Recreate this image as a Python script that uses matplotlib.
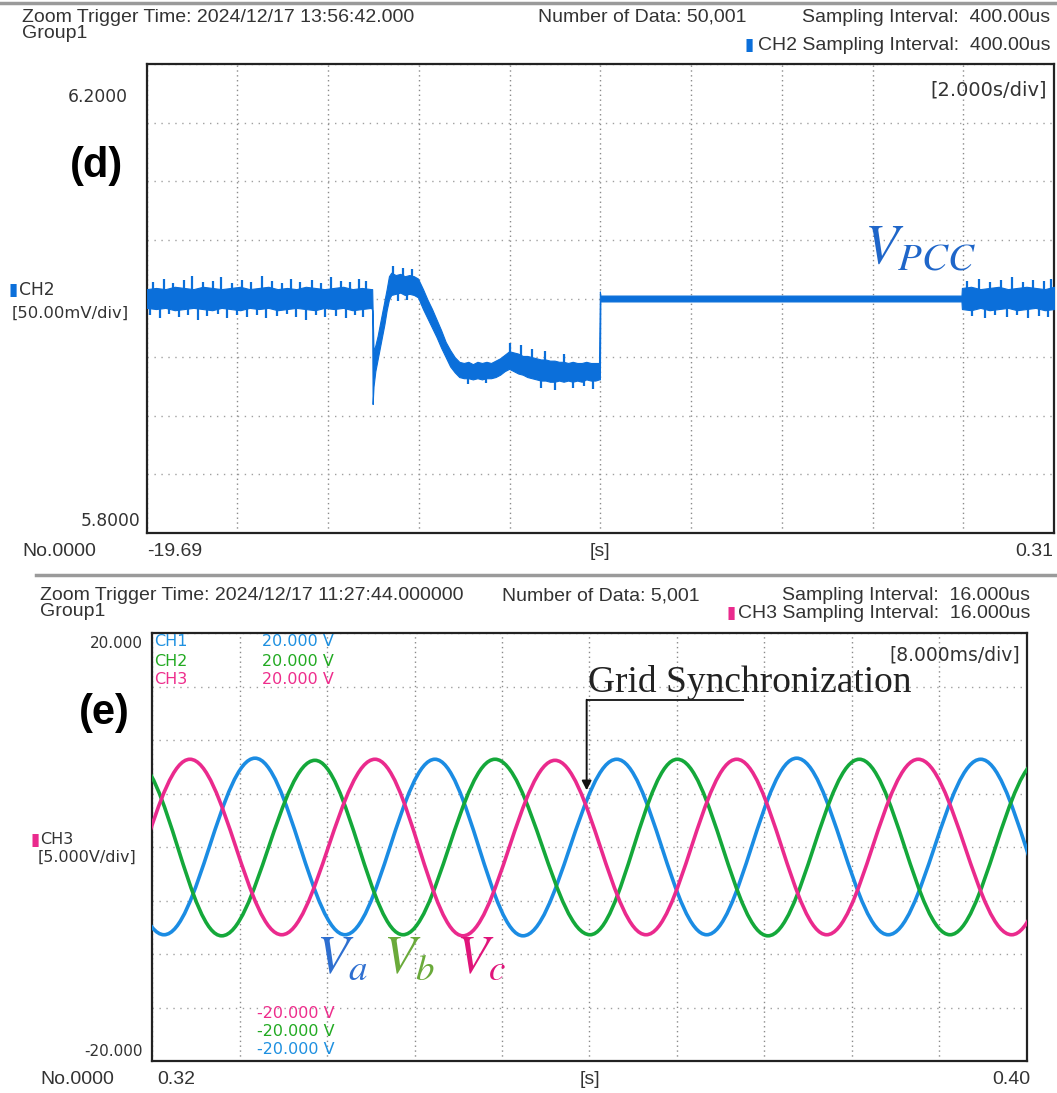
import numpy as np
import matplotlib
matplotlib.use("Agg")
import matplotlib.pyplot as plt
from matplotlib.path import Path
from matplotlib.patches import PathPatch
from matplotlib.lines import Line2D
from matplotlib import font_manager

# ------------------------------------------------------------------ data
# Panel (d): V_PCC trace (CH2); core band of the noisy trace
d_xlim = (-19.69, 0.31)
d_ylim = (5.80, 6.20)
base_t_range = (-19.69, -14.74)
base_hi = [6.008, 6.009, 6.008, 6.010, 6.009, 6.008, 6.010, 6.009, 6.008, 6.009,
           6.010, 6.008, 6.009, 6.010, 6.008, 6.009, 6.008, 6.010, 6.009, 6.008,
           6.009, 6.010, 6.008, 6.009, 6.008]
base_lo = [5.992, 5.991, 5.992, 5.990, 5.991, 5.992, 5.991, 5.990, 5.992, 5.991,
           5.990, 5.992, 5.991, 5.992, 5.990, 5.991, 5.992, 5.991, 5.990, 5.992,
           5.991, 5.992, 5.990, 5.991, 5.992]
event_t = [-14.72, -14.71, -14.69, -14.65, -14.60, -14.55, -14.50, -14.45, -14.40, -14.35,
           -14.30, -14.20, -14.10, -14.00, -13.90, -13.80, -13.71, -13.60, -13.50, -13.40,
           -13.30, -13.20, -13.10, -13.00, -12.90, -12.80, -12.70, -12.60, -12.50, -12.40,
           -12.30, -12.20, -12.10, -12.00, -11.90, -11.80, -11.70, -11.60, -11.50, -11.40,
           -11.30, -11.20, -11.10, -11.00, -10.90, -10.80, -10.70, -10.60, -10.50, -10.40,
           -10.30, -10.20, -10.10, -10.00, -9.90, -9.80, -9.72]
event_hi = [6.008, 5.990, 5.955, 5.960, 5.968, 5.978, 5.988, 5.998, 6.008, 6.019,
            6.022, 6.020, 6.021, 6.019, 6.020, 6.019, 6.017, 6.008, 5.999, 5.991,
            5.982, 5.973, 5.963, 5.956, 5.950, 5.946, 5.945, 5.946, 5.944, 5.946,
            5.945, 5.946, 5.945, 5.947, 5.949, 5.952, 5.955, 5.954, 5.953, 5.951,
            5.951, 5.950, 5.949, 5.948, 5.948, 5.947, 5.947, 5.946, 5.946, 5.945,
            5.946, 5.945, 5.945, 5.946, 5.945, 5.945, 5.945]
event_lo = [5.990, 5.910, 5.925, 5.938, 5.948, 5.958, 5.968, 5.978, 5.990, 5.999,
            6.003, 6.004, 6.005, 6.003, 6.004, 6.003, 6.001, 5.991, 5.983, 5.975,
            5.967, 5.958, 5.950, 5.942, 5.937, 5.933, 5.932, 5.932, 5.931, 5.932,
            5.931, 5.932, 5.932, 5.933, 5.935, 5.938, 5.940, 5.938, 5.936, 5.935,
            5.933, 5.932, 5.931, 5.930, 5.930, 5.929, 5.929, 5.930, 5.929, 5.930,
            5.929, 5.930, 5.929, 5.931, 5.930, 5.930, 5.931]
flat_t = [-9.70, -9.69, -1.73]
flat_hi = [6.006, 6.0025, 6.0025]
flat_lo = [5.931, 5.9975, 5.9975]
tail_t_range = (-1.72, 0.31)
tail_hi = [6.009, 6.010, 6.008, 6.009, 6.010, 6.008, 6.009, 6.010, 6.009, 6.008, 6.010]
tail_lo = [5.991, 5.990, 5.992, 5.990, 5.991, 5.992, 5.990, 5.991, 5.992, 5.990, 5.991]
# noise spikes: times and tip values
spike_up_t = [-19.55, -19.31, -19.12, -18.86, -18.70, -18.45, -18.22, -18.05, -17.80, -17.58,
              -17.40, -17.15, -16.93, -16.70, -16.52, -16.30, -16.05, -15.85, -15.62, -15.40,
              -15.20, -15.02, -14.85, -14.25, -14.05, -13.85, -11.68, -11.45, -11.20, -10.90,
              -10.50, -1.60, -1.35, -1.10, -0.85, -0.62, -0.38, -0.15, 0.08, 0.25]
spike_up_v = [6.014, 6.017, 6.013, 6.016, 6.019, 6.014, 6.015, 6.018, 6.013, 6.016,
              6.014, 6.019, 6.015, 6.013, 6.017, 6.014, 6.016, 6.013, 6.018, 6.015,
              6.014, 6.017, 6.015, 6.028, 6.026, 6.025, 5.962, 5.960, 5.957, 5.955,
              5.953, 6.015, 6.017, 6.014, 6.016, 6.018, 6.014, 6.016, 6.015, 6.017]
spike_dn_t = [-19.62, -19.40, -19.20, -18.98, -18.78, -18.55, -18.35, -18.12, -17.92, -17.70,
              -17.48, -17.25, -17.05, -16.82, -16.60, -16.40, -16.18, -15.95, -15.75, -15.52,
              -15.30, -15.10, -14.92, -14.15, -13.95, -12.60, -12.20, -11.00, -10.70, -10.30,
              -10.05, -9.85, -1.50, -1.22, -0.98, -0.72, -0.50, -0.26, -0.02, 0.18]
spike_dn_v = [5.986, 5.983, 5.987, 5.984, 5.986, 5.982, 5.985, 5.987, 5.983, 5.986,
              5.984, 5.986, 5.983, 5.985, 5.987, 5.984, 5.982, 5.986, 5.984, 5.985,
              5.983, 5.986, 5.984, 5.998, 5.999, 5.927, 5.928, 5.924, 5.922, 5.924,
              5.925, 5.923, 5.985, 5.983, 5.986, 5.984, 5.986, 5.983, 5.985, 5.984]

# Panel (e): three-phase voltages, times/values of successive peaks and troughs
e_xlim = (0.32, 0.40)
e_ylim = (-20.0, 20.0)
va_t = [0.31282, 0.32110, 0.32942, 0.33765, 0.34587, 0.35392, 0.36249, 0.37072,
        0.37894, 0.38732, 0.39577, 0.40402]
va_v = [8.2, -8.2, 8.3, -8.2, 8.2, -8.3, 8.2, -8.2, 8.3, -8.2, 8.2, -8.2]
vb_t = [0.31008, 0.31835, 0.32637, 0.33490, 0.34295, 0.35136, 0.36005, 0.36803,
        0.37632, 0.38467, 0.39296, 0.40128]
vb_v = [-8.2, 8.2, -8.3, 8.1, -8.2, 8.2, -8.2, 8.2, -8.3, 8.2, -8.2, 8.2]
vc_t = [0.31520, 0.32347, 0.33186, 0.34039, 0.34843, 0.35685, 0.36517, 0.37346,
        0.38169, 0.39006, 0.39860, 0.40686]
vc_v = [-8.2, 8.2, -8.2, 8.2, -8.3, 8.1, -8.2, 8.2, -8.2, 8.2, -8.2, 8.2]
sync_t = 0.35974          # grid synchronisation instant
sync_arrow = (13.76, 5.3)  # arrow start / tip (V)
sync_bar_end = 0.37404

# ------------------------------------------------------------------ style
names = {f.name for f in font_manager.fontManager.ttflist}
NARROW = "Liberation Sans Narrow" if "Liberation Sans Narrow" in names else "Liberation Sans"
plt.rcParams["mathtext.fontset"] = "stix"

W, H = 1057, 1093
fig = plt.figure(figsize=(W / 100, H / 100), dpi=100)
fig.patch.set_facecolor("white")

TXT = "#333333"
C_TOP = "#0b6fda"
C_A, C_B, C_C = "#1b8ce3", "#14a83a", "#ea2a8d"


def ftext(x, y, s, **kw):
    kw.setdefault("va", "center")
    kw.setdefault("ha", "left")
    kw.setdefault("color", TXT)
    return fig.text(x / W, 1 - y / H, s, **kw)


def hline_px(x0, x1, y, **kw):
    fig.add_artist(Line2D([x0 / W, x1 / W], [1 - y / H, 1 - y / H],
                          transform=fig.transFigure, **kw))


def scope_axes(rect_px, xlim, ylim):
    x0, y0, x1, y1 = rect_px
    ax = fig.add_axes([x0 / W, 1 - y1 / H, (x1 - x0) / W, (y1 - y0) / H])
    ax.set_xlim(*xlim)
    ax.set_ylim(*ylim)
    ax.set_xticks(np.linspace(xlim[0], xlim[1], 11))
    ax.set_yticks(np.linspace(ylim[0], ylim[1], 9))
    ax.tick_params(length=0, labelbottom=False, labelleft=False)
    ax.xaxis.grid(True, color="#8a8a8a", lw=1.0, ls=(0, (1, 2.5)))
    ax.yaxis.grid(True, color="#a0a0a0", lw=1.0, ls=(0, (1, 4)))
    ax.set_axisbelow(True)
    for sp in ax.spines.values():
        sp.set_linewidth(1.6)
        sp.set_color("#222222")
    return ax


# separator lines
hline_px(0, W, 3, color="#9a9a9a", lw=2.5)
hline_px(36, W, 575, color="#9a9a9a", lw=2.5)

# ------------------------------------------------------------------ panel (d)
axd = scope_axes((146.7, 64, 1054, 533), d_xlim, d_ylim)
base_t = np.linspace(base_t_range[0], base_t_range[1], len(base_hi))
tail_t = np.linspace(tail_t_range[0], tail_t_range[1], len(tail_hi))
t_all = np.concatenate([base_t, event_t, flat_t, tail_t])
hi_all = np.concatenate([base_hi, event_hi, flat_hi, tail_hi])
lo_all = np.concatenate([base_lo, event_lo, flat_lo, tail_lo])
axd.fill_between(t_all, lo_all, hi_all, color=C_TOP, lw=0.8, edgecolor=C_TOP, zorder=3)
SPIKE_LEN = 0.012
axd.vlines(spike_up_t, np.array(spike_up_v) - SPIKE_LEN, spike_up_v, color=C_TOP, lw=1.6, zorder=3)
axd.vlines(spike_dn_t, spike_dn_v, np.array(spike_dn_v) + SPIKE_LEN, color=C_TOP, lw=1.6, zorder=3)

hs = 14
ftext(22, 17, "Zoom Trigger Time: 2024/12/17 13:56:42.000", family=NARROW, size=hs)
ftext(22, 33, "Group1", family=NARROW, size=hs)
ftext(538, 17, "Number of Data: 50,001", family=NARROW, size=hs)
ftext(1050, 17, "Sampling Interval:  400.00us", family=NARROW, size=hs, ha="right")
ftext(1050, 45, "CH2 Sampling Interval:  400.00us", family=NARROW, size=hs, ha="right")
ftext(745, 45, "\u25AE", family="DejaVu Sans", size=12, color=C_TOP)
ftext(1047, 90, "[2.000s/div]", family="DejaVu Sans", size=14, ha="right")
ftext(128, 97, "6.2000", family="DejaVu Sans", size=12.3, ha="right")
ftext(140, 521, "5.8000", family="DejaVu Sans", size=12.3, ha="right")
ftext(96, 166, "(d)", family="Liberation Sans", weight="bold", size=30, ha="center", color="black")
ftext(8, 290, "\u25AE", family="DejaVu Sans", size=12, color=C_TOP)
ftext(19, 290, "CH2", family="DejaVu Sans", size=12.3)
ftext(12, 313, "[50.00mV/div]", family="DejaVu Sans", size=11.8)
ftext(22, 552, "No.0000", family=NARROW, size=hs)
ftext(147, 552, "-19.69", family=NARROW, size=hs)
ftext(600, 552, "[s]", family=NARROW, size=hs, ha="center")
ftext(1053, 552, "0.31", family=NARROW, size=hs, ha="right")
ftext(864, 248, r"$V_{PCC}$", size=40, color="#1f66c9")

# ------------------------------------------------------------------ panel (e)
axe = scope_axes((152, 633, 1027, 1061), e_xlim, e_ylim)

HALF_PI = np.pi / 2
BZ_A, BZ_B = 0.5122866, 1.0023137  # cubic Bezier of a quarter sine


def wave_path(ts, vs):
    verts = [(ts[0], vs[0])]
    codes = [Path.MOVETO]
    for t0, v0, t1, v1 in zip(ts[:-1], vs[:-1], ts[1:], vs[1:]):
        tm, vm = (t0 + t1) / 2, (v0 + v1) / 2
        q0 = tm - t0
        q1 = t1 - tm
        verts += [(t0 + (1 - BZ_B / HALF_PI) * q0, v0),
                  (t0 + (1 - BZ_A / HALF_PI) * q0, vm + BZ_A * (v0 - vm)),
                  (tm, vm),
                  (tm + BZ_A / HALF_PI * q1, vm + BZ_A * (v1 - vm)),
                  (tm + BZ_B / HALF_PI * q1, v1),
                  (t1, v1)]
        codes += [Path.CURVE4] * 6
    return Path(verts, codes)


for ts, vs, c in [(va_t, va_v, C_A), (vb_t, vb_v, C_B), (vc_t, vc_v, C_C)]:
    axe.add_patch(PathPatch(wave_path(ts, vs), fill=False, edgecolor=c, lw=2.6,
                            capstyle="round", joinstyle="round", zorder=3))

axe.plot([sync_t, sync_bar_end], [sync_arrow[0], sync_arrow[0]], color="#222222", lw=1.4, zorder=4)
axe.annotate("", xy=(sync_t, sync_arrow[1]), xytext=(sync_t, sync_arrow[0]),
             arrowprops=dict(arrowstyle="-|>,head_length=0.55,head_width=0.28",
                             color="#111111", lw=1.4, shrinkA=0, shrinkB=0), zorder=4)

ftext(40, 596, "Zoom Trigger Time: 2024/12/17 11:27:44.000000", family=NARROW, size=hs)
ftext(40, 611, "Group1", family=NARROW, size=hs)
ftext(502, 596, "Number of Data: 5,001", family=NARROW, size=hs)
ftext(1030, 596, "Sampling Interval:  16.000us", family=NARROW, size=hs, ha="right")
ftext(1030, 613, "CH3 Sampling Interval:  16.000us", family=NARROW, size=hs, ha="right")
ftext(726, 613, "\u25AE", family="DejaVu Sans", size=12, color=C_C)
ftext(143, 643, "20.000", family="DejaVu Sans", size=11, ha="right")
ftext(143, 1052, "-20.000", family="DejaVu Sans", size=11, ha="right")
for y, c, lab in [(642, "#1e90e0", "CH1"), (661, "#22aa22", "CH2"), (680, "#ee2d8c", "CH3")]:
    ftext(154, y, lab, family="DejaVu Sans", size=11.5, color=c)
    ftext(262, y, "20.000 V", family="DejaVu Sans", size=11.5, color=c)
for y, c in [(1013, "#ee2d8c"), (1032, "#22aa22"), (1050, "#1e90e0")]:
    ftext(257, y, "-20.000 V", family="DejaVu Sans", size=11.5, color=c)
ftext(1020, 655, "[8.000ms/div]", family="DejaVu Sans", size=13.5, ha="right")
ftext(104, 713, "(e)", family="Liberation Sans", weight="bold", size=30, ha="center", color="black")
ftext(30, 840, "\u25AE", family="DejaVu Sans", size=12, color=C_C)
ftext(40, 840, "CH3", family="DejaVu Sans", size=11.5)
ftext(38, 857, "[5.000V/div]", family="DejaVu Sans", size=11.5)
ftext(588, 682, "Grid Synchronization", family="Liberation Serif", size=27, color="#222222")
ftext(316, 958, r"$V_a$", size=38, color="#2e6fd0")
ftext(383, 958, r"$V_b$", size=38, color="#6aaa3a")
ftext(456, 958, r"$V_c$", size=38, color="#e0147a")
ftext(40, 1080, "No.0000", family=NARROW, size=hs)
ftext(157, 1080, "0.32", family=NARROW, size=hs)
ftext(590, 1080, "[s]", family=NARROW, size=hs, ha="center")
ftext(1030, 1080, "0.40", family=NARROW, size=hs, ha="right")

fig.savefig("out.png", dpi=100, facecolor="white")
